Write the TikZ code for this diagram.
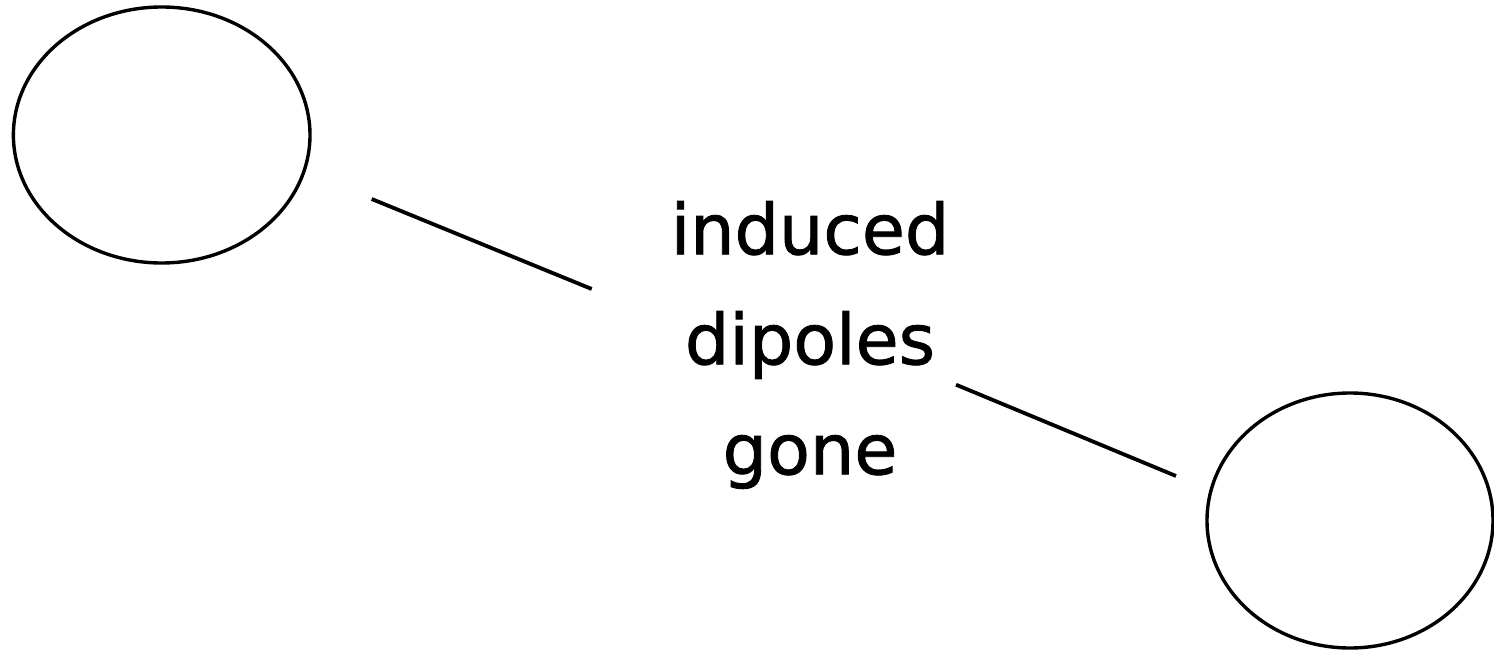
\documentclass[tikz,border=0pt]{standalone}
\usepackage{fontspec}
\setmainfont{DejaVu Sans}
\newfontfamily\labelfont[FakeBold=1.2]{DejaVu Sans}
\tikzset{
  blob/.style={draw=black, line width=3.4pt},
  link/.style={draw=black, line width=3.8pt},
  label/.style={inner sep=0pt, align=center, font=\labelfont\fontsize{70}{110}\selectfont}
}
\begin{document}
\begin{tikzpicture}[x=1pt,y=-1pt]
\useasboundingbox (0,0) rectangle (1494,652);
\fill[white] (0,0) rectangle (1494,652);
\draw[blob] (161.7,135) ellipse [x radius=148.3, y radius=128];
\draw[blob] (1350,520.5) ellipse [x radius=143, y radius=127.5];
\node[label] (txt) at (810,345) {induced\\dipoles\\gone};
\coordinate (a1) at (371.7,199);
\coordinate (a2) at (591.7,289);
\coordinate (b1) at (956,384.7);
\coordinate (b2) at (1176,476);
\draw[link] (a1) -- (a2);
\draw[link] (b1) -- (b2);
\end{tikzpicture}
\end{document}
